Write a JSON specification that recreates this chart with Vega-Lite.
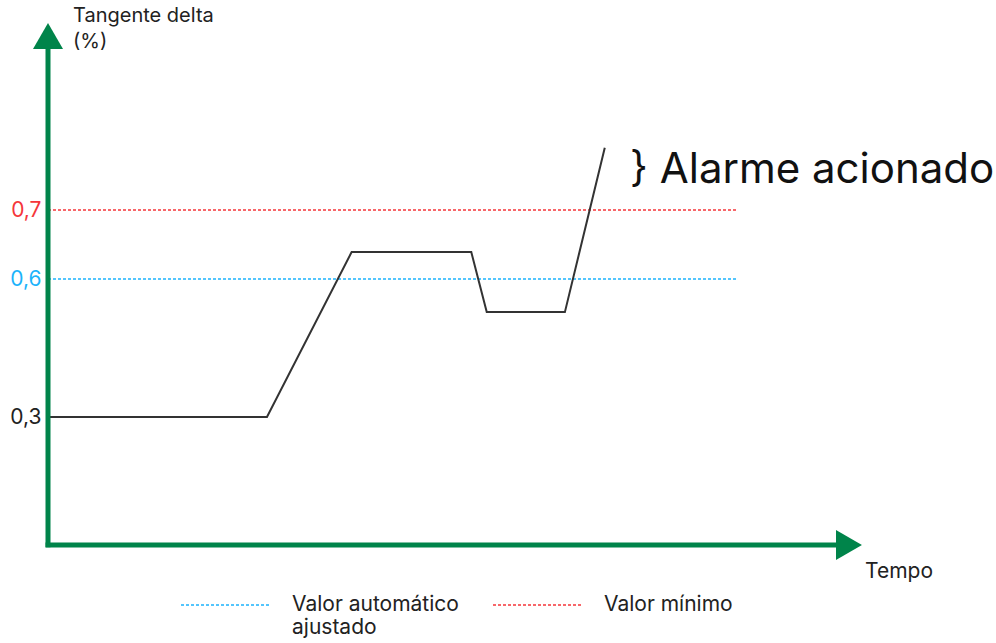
{
  "$schema": "https://vega.github.io/schema/vega-lite/v6.json",
  "width": 814,
  "height": 522,
  "autosize": {"type": "none"},
  "padding": {"left": 48, "top": 23, "right": 134, "bottom": 98},
  "background": "white",
  "config": {"view": {"stroke": null}, "font": "Inter"},
  "datasets": {
    "curva": [
      {"tempo": 0, "tangente": 0.3},
      {"tempo": 26.9, "tangente": 0.3},
      {"tempo": 37.3, "tangente": 0.639},
      {"tempo": 52.0, "tangente": 0.639},
      {"tempo": 53.9, "tangente": 0.528},
      {"tempo": 63.5, "tangente": 0.528},
      {"tempo": 68.4, "tangente": 0.8}
    ],
    "limites": [
      {"serie": "Valor automático ajustado", "tangente": 0.6, "inicio": 0, "fim": 84.6},
      {"serie": "Valor mínimo", "tangente": 0.7, "inicio": 0, "fim": 84.6}
    ]
  },
  "layer": [
    {
      "data": {"name": "limites"},
      "mark": {"type": "rule", "strokeWidth": 1.5, "strokeDash": [3, 2]},
      "encoding": {
        "x": {"field": "inicio", "type": "quantitative", "scale": {"domain": [0, 100], "nice": false, "zero": false}, "axis": null},
        "x2": {"field": "fim"},
        "y": {
          "field": "tangente", "type": "quantitative",
          "scale": {"domain": [0, 0.3, 0.6, 0.7, 1], "range": [522, 394, 256, 187, 0], "nice": false, "zero": false},
          "axis": {
            "values": [0.3, 0.6, 0.7],
            "title": null,
            "domain": false,
            "ticks": false,
            "grid": false,
            "labelPadding": 7,
            "labelFontSize": 21,
            "labelFont": "Inter",
            "labelExpr": "replace(format(datum.value, '.1f'), '.', ',')",
            "labelColor": {"condition": [{"test": "datum.value === 0.6", "value": "#1cb3fb"}, {"test": "datum.value === 0.7", "value": "#f5363a"}], "value": "#222222"}
          }
        },
        "color": {
          "field": "serie", "type": "nominal",
          "scale": {"domain": ["Valor automático ajustado", "Valor mínimo"], "range": ["#1cb3fb", "#f5363a"]},
          "legend": {
            "title": null,
            "orient": "none",
            "legendX": 132,
            "legendY": 536,
            "direction": "horizontal",
            "symbolType": "stroke",
            "symbolSize": 8100,
            "symbolStrokeWidth": 1.5,
            "symbolDash": [3, 2],
            "labelOffset": 20,
            "columnPadding": 31,
            "labelFont": "Inter",
            "labelFontSize": 21,
            "labelColor": "#222222",
            "labelLimit": 300,
            "labelAlign": "left",
            "labelBaseline": "middle",
            "labelExpr": "datum.label == 'Valor automático ajustado' ? ['Valor automático', '\u00a0\u00a0\u00a0\u00a0\u00a0\u00a0\u00a0ajustado'] : [datum.label, '']"
          }
        }
      }
    },
    {
      "data": {"name": "curva"},
      "mark": {"type": "line", "color": "#333333", "strokeWidth": 2},
      "encoding": {
        "x": {"field": "tempo", "type": "quantitative"},
        "y": {"field": "tangente", "type": "quantitative"}
      }
    },
    {
      "data": {"values": [{}]},
      "mark": {"type": "rule", "color": "#00844a", "strokeWidth": 5, "strokeCap": "butt"},
      "encoding": {"x": {"datum": 0}, "y": {"datum": -0.005}, "y2": {"datum": 0.96}}
    },
    {
      "data": {"values": [{}]},
      "mark": {"type": "rule", "color": "#00844a", "strokeWidth": 5, "strokeCap": "butt"},
      "encoding": {"x": {"datum": -0.3}, "x2": {"datum": 97.5}, "y": {"datum": 0}}
    },
    {
      "data": {"values": [{}]},
      "mark": {"type": "point", "shape": "triangle-up", "size": 900, "filled": true, "color": "#00844a", "opacity": 1},
      "encoding": {"x": {"datum": 0}, "y": {"datum": 0.979}}
    },
    {
      "data": {"values": [{}]},
      "mark": {"type": "point", "shape": "triangle-right", "size": 900, "filled": true, "color": "#00844a", "opacity": 1},
      "encoding": {"x": {"datum": 98.4}, "y": {"datum": 0}}
    },
    {
      "data": {"values": [{}]},
      "mark": {"type": "text", "align": "left", "baseline": "top", "fontSize": 20, "color": "#222222", "lineHeight": 26, "dx": 25, "dy": -17, "font": "Inter"},
      "encoding": {"x": {"datum": 0}, "y": {"datum": 1}, "text": {"value": ["Tangente delta", "(%)"]}}
    },
    {
      "data": {"values": [{}]},
      "mark": {"type": "text", "align": "left", "baseline": "middle", "fontSize": 21, "color": "#222222", "dx": 3, "dy": 27, "font": "Inter"},
      "encoding": {"x": {"datum": 100}, "y": {"datum": 0}, "text": {"value": "Tempo"}}
    },
    {
      "data": {"values": [{}]},
      "mark": {"type": "text", "align": "left", "baseline": "middle", "fontSize": 42, "color": "#111111", "font": "Inter"},
      "encoding": {"x": {"datum": 71.5}, "y": {"datum": 0.764}, "text": {"value": "} Alarme acionado"}}
    }
  ]
}
